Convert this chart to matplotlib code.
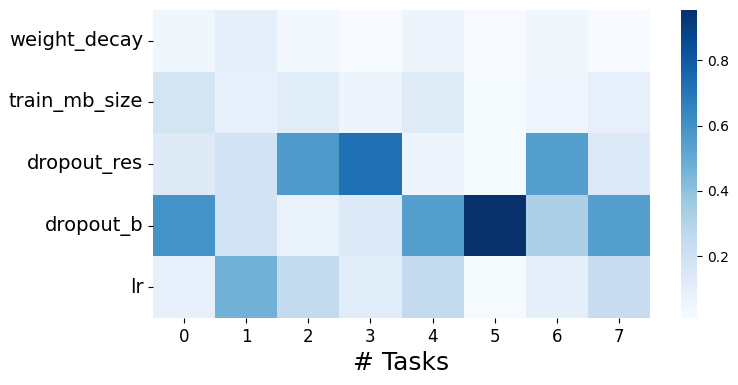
import matplotlib
matplotlib.use("Agg")
import matplotlib.pyplot as plt
import seaborn as sns
import numpy as np

# hyperparameter importance per task
params = ["weight_decay", "train_mb_size", "dropout_res", "dropout_b", "lr"]
tasks = [0, 1, 2, 3, 4, 5, 6, 7]

weight_decay = [0.05, 0.10, 0.03, 0.01, 0.06, 0.015, 0.05, 0.012]
train_mb_size = [0.18, 0.09, 0.12, 0.06, 0.125, 0.02, 0.055, 0.09]
dropout_res = [0.13, 0.19, 0.565, 0.72, 0.06, 0.02, 0.545, 0.14]
dropout_b = [0.59, 0.19, 0.08, 0.14, 0.545, 0.954, 0.32, 0.545]
lr = [0.09, 0.47, 0.25, 0.12, 0.25, 0.02, 0.10, 0.24]

data = np.array([weight_decay, train_mb_size, dropout_res, dropout_b, lr])

fig = plt.figure(figsize=(7.38, 3.85), dpi=100)
ax = fig.add_axes([153 / 738, 1 - 318 / 385, 497 / 738, 308 / 385])
cax = fig.add_axes([681 / 738, 1 - 318 / 385, 16 / 738, 308 / 385])

sns.heatmap(data, ax=ax, cbar_ax=cax, cmap="Blues",
            xticklabels=tasks, yticklabels=params)

ax.set_yticklabels(params, rotation=0, fontsize=14)
ax.set_xticklabels(tasks, rotation=0, fontsize=12)
ax.set_xlabel("# Tasks", fontsize=18)
cax.tick_params(labelsize=10)

fig.savefig("out.png", dpi=100)
